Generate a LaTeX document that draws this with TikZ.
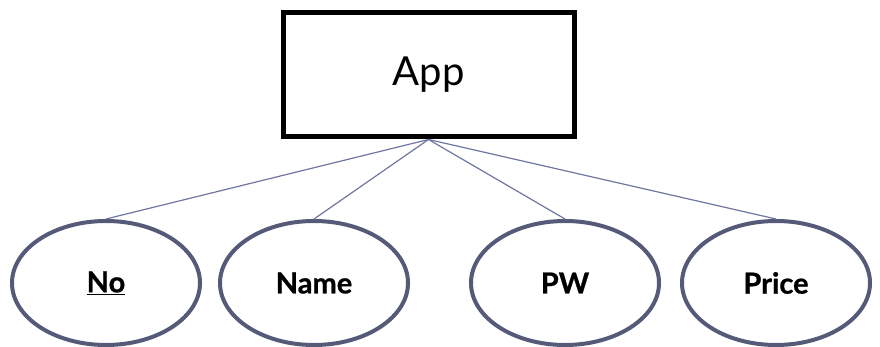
\documentclass[tikz,border=0pt]{standalone}
\usepackage{fontspec}
\setmainfont{Lato}
\newfontfamily\lblfont[FakeBold=0.8]{Lato Bold}
\usetikzlibrary{shapes.geometric}
\definecolor{ellcol}{RGB}{84,90,120}
\definecolor{linecol}{RGB}{110,118,160}
\tikzset{
  entity/.style={draw=black, line width=5pt, minimum width=291pt, minimum height=124pt, inner sep=0pt, font=\fontsize{40}{48}\selectfont},
  attr/.style={ellipse, draw=ellcol, line width=4pt, minimum width=188pt, minimum height=124pt, inner sep=0pt, font=\lblfont\fontsize{29}{34}\selectfont},
  conn/.style={draw=linecol, line width=1.2pt}
}
\begin{document}
\begin{tikzpicture}[x=1pt,y=1pt]
\useasboundingbox (0,0) rectangle (880,347);
\node[entity] (app) at (428.5,272) {App};
\node[attr] (no) at (106,64) {\underline{No}};
\node[attr] (name) at (314,64) {Name};
\node[attr] (pw) at (565,64) {PW};
\node[attr] (price) at (776,64) {Price};
\draw[conn] (app.south) -- (no.north);
\draw[conn] (app.south) -- (name.north);
\draw[conn] (app.south) -- (pw.north);
\draw[conn] (app.south) -- (price.north);
\end{tikzpicture}
\end{document}
